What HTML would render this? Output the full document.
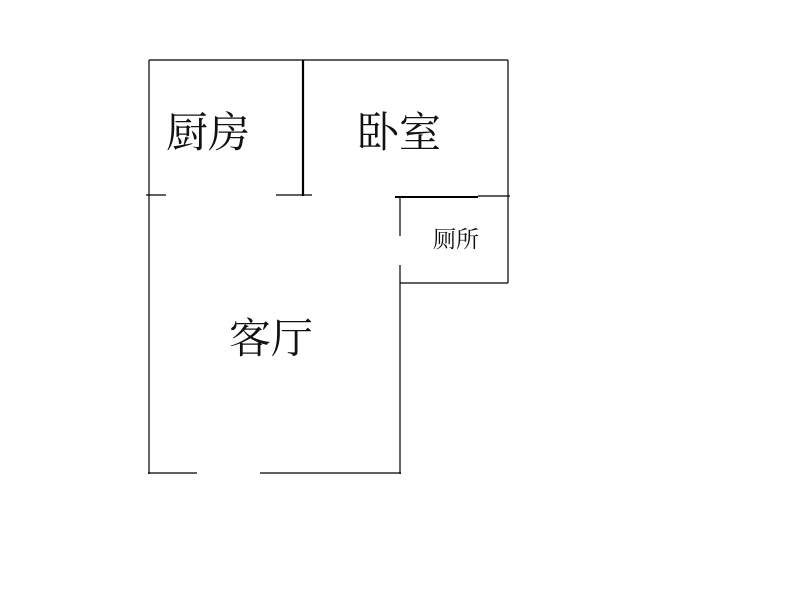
<!DOCTYPE html>
<html><head><meta charset="utf-8"><style>
html,body{margin:0;padding:0;background:#fff;}
svg{display:block}
text{font-family:"Liberation Serif","Noto Serif CJK SC","Noto Sans CJK SC",serif;fill:#111;}
</style></head><body>
<svg width="800" height="600" viewBox="0 0 800 600" xmlns="http://www.w3.org/2000/svg">
<g stroke="#000" stroke-width="1.2" fill="none">
<line x1="149" y1="60" x2="508" y2="60"/>
<line x1="149" y1="60" x2="149" y2="474"/>
<line x1="508" y1="60" x2="508" y2="283"/>
<line x1="303" y1="60" x2="303" y2="196" stroke-width="2.2"/>
<line x1="146" y1="195" x2="166" y2="195"/>
<line x1="276" y1="195" x2="312" y2="195"/>
<line x1="395" y1="197" x2="478" y2="197" stroke-width="2"/>
<line x1="478" y1="196" x2="510" y2="196"/>
<line x1="400" y1="197" x2="400" y2="236"/>
<line x1="400" y1="265" x2="400" y2="474"/>
<line x1="400" y1="283" x2="508" y2="283"/>
<line x1="148" y1="473" x2="197" y2="473"/>
<line x1="260" y1="473" x2="401" y2="473"/>
</g>
<text x="166" y="147" font-size="42">厨房</text>
<text x="357" y="147" font-size="42">卧室</text>
<text x="433" y="247" font-size="23">厕所</text>
<text x="229" y="353" font-size="42">客厅</text>
</svg>
</body></html>
